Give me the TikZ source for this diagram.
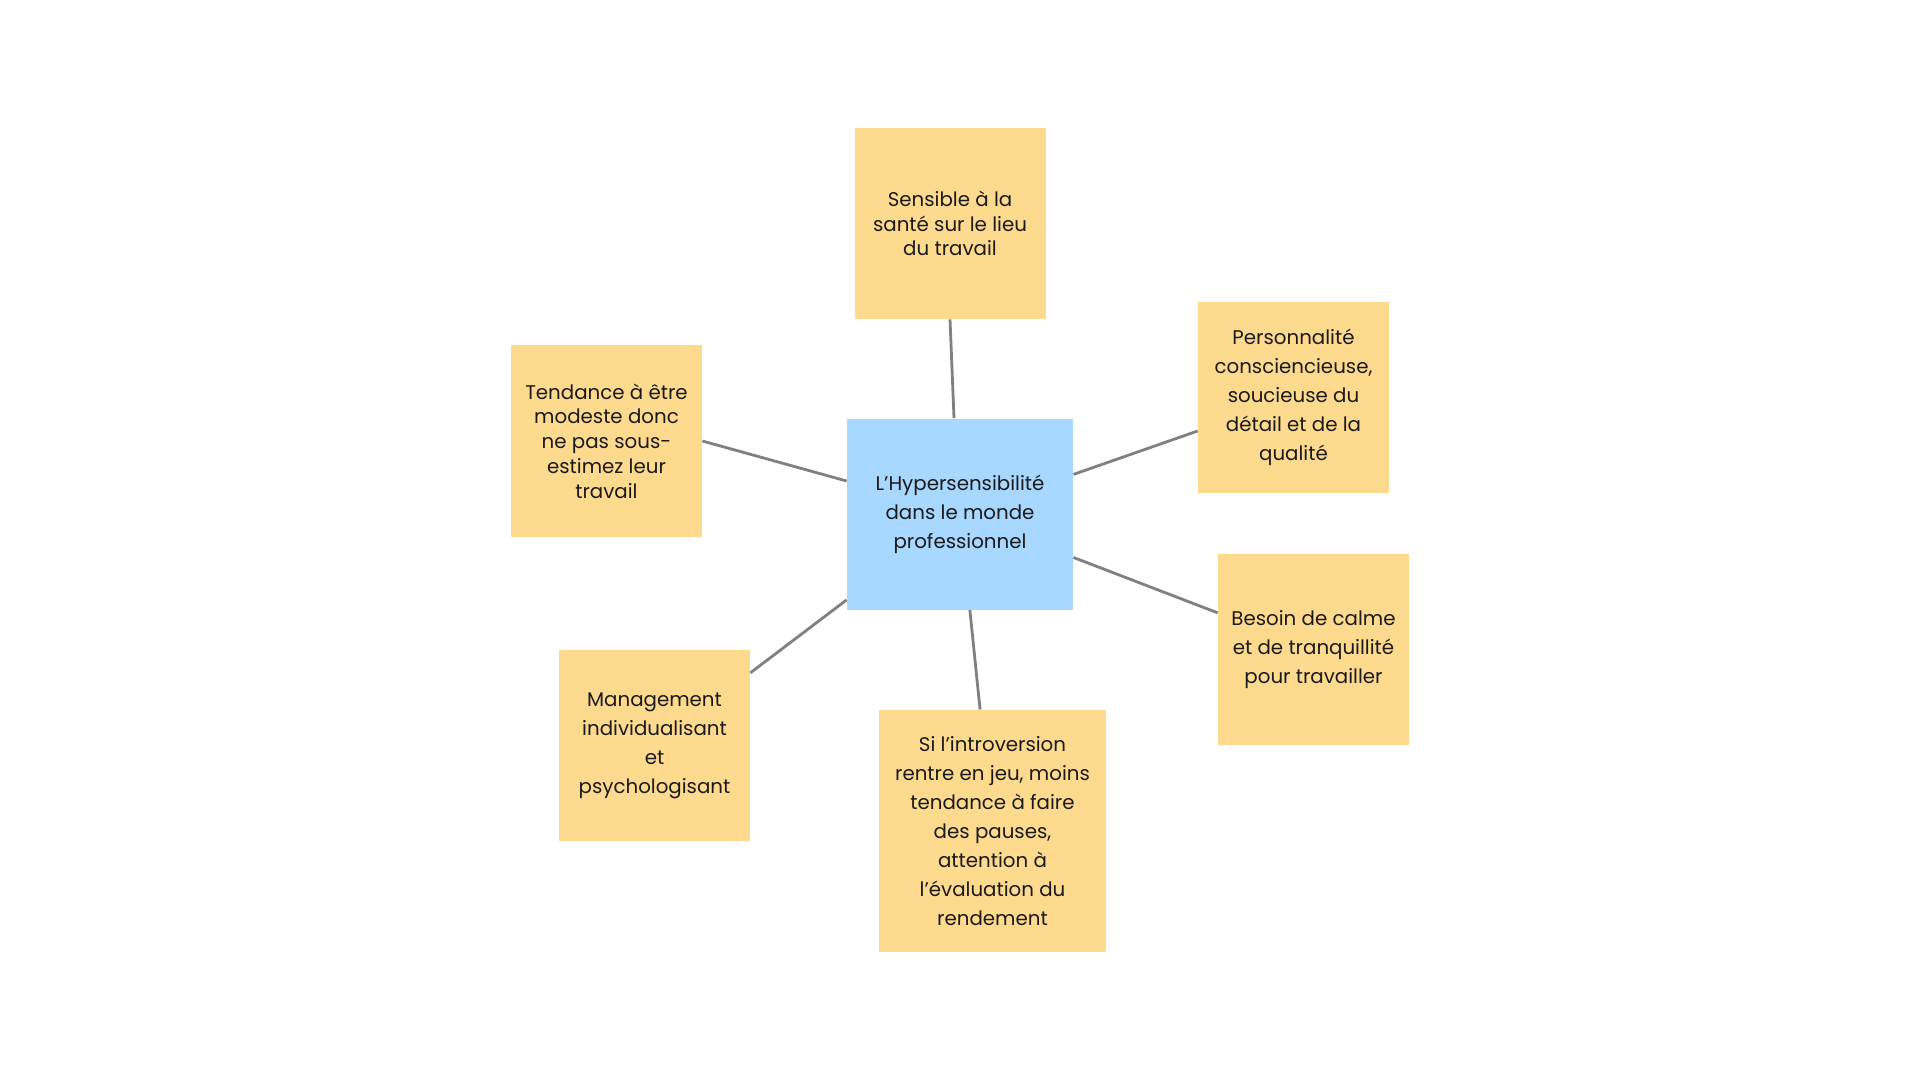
\documentclass[tikz,border=0pt]{standalone}
\usepackage{fontspec}
\setmainfont{Poppins}
\usepackage{xcolor}
\definecolor{HSBlue}{HTML}{A8D8FF}
\definecolor{HSYellow}{HTML}{FEDA8F}
\definecolor{HSLine}{HTML}{808080}
\definecolor{HSText}{HTML}{1A1A1A}

\begin{document}
\begin{tikzpicture}[
  x=0.5pt, y=-0.5pt,
  card/.style={fill=HSYellow, minimum width=95.5pt, minimum height=95.5pt, inner sep=0pt, align=center, text=HSText, font=\fontsize{9.9}{14.5}\selectfont},
  tightcard/.style={card, font=\fontsize{9.9}{12.4}\selectfont},
  core/.style={card, fill=HSBlue, minimum width=113pt},
  tallcard/.style={card, minimum width=113.5pt, minimum height=121pt},
  link/.style={draw=HSLine, line width=1.4pt}
]
\fill[white] (0,0) rectangle (1920,1080);
\useasboundingbox (0,0) rectangle (1920,1080);
\node[core] (hyper) at (960,514) {L’Hypersensibilité\\dans le monde\\professionnel};
\node[tightcard] (sante) at (950,223.5) {Sensible à la\\santé sur le lieu\\du travail};
\node[card] (detail) at (1293.5,397.5) {Personnalité\\consciencieuse,\\soucieuse du\\détail et de la\\qualité};
\node[card] (calme) at (1313.5,649.5) {Besoin de calme\\et de tranquillité\\pour travailler};
\node[tallcard] (pauses) at (992.5,831) {Si l’introversion\\rentre en jeu, moins\\tendance à faire\\des pauses,\\attention à\\l’évaluation du\\rendement};
\node[card] (manage) at (654.5,745.5) {Management\\individualisant\\et\\psychologisant};
\node[tightcard] (modeste) at (606.5,441) {Tendance à être\\modeste donc\\ne pas sous-\\estimez leur\\travail};
\draw[link] (sante.south) -- ([xshift=-3pt]hyper.north);
\draw[link] (hyper) -- (detail);
\draw[link] (hyper) -- (calme);
\draw[link] (hyper) -- (pauses);
\draw[link] (hyper) -- (manage);
\draw[link] (modeste.east) -- ([yshift=16.5pt]hyper.west);
\end{tikzpicture}
\end{document}
